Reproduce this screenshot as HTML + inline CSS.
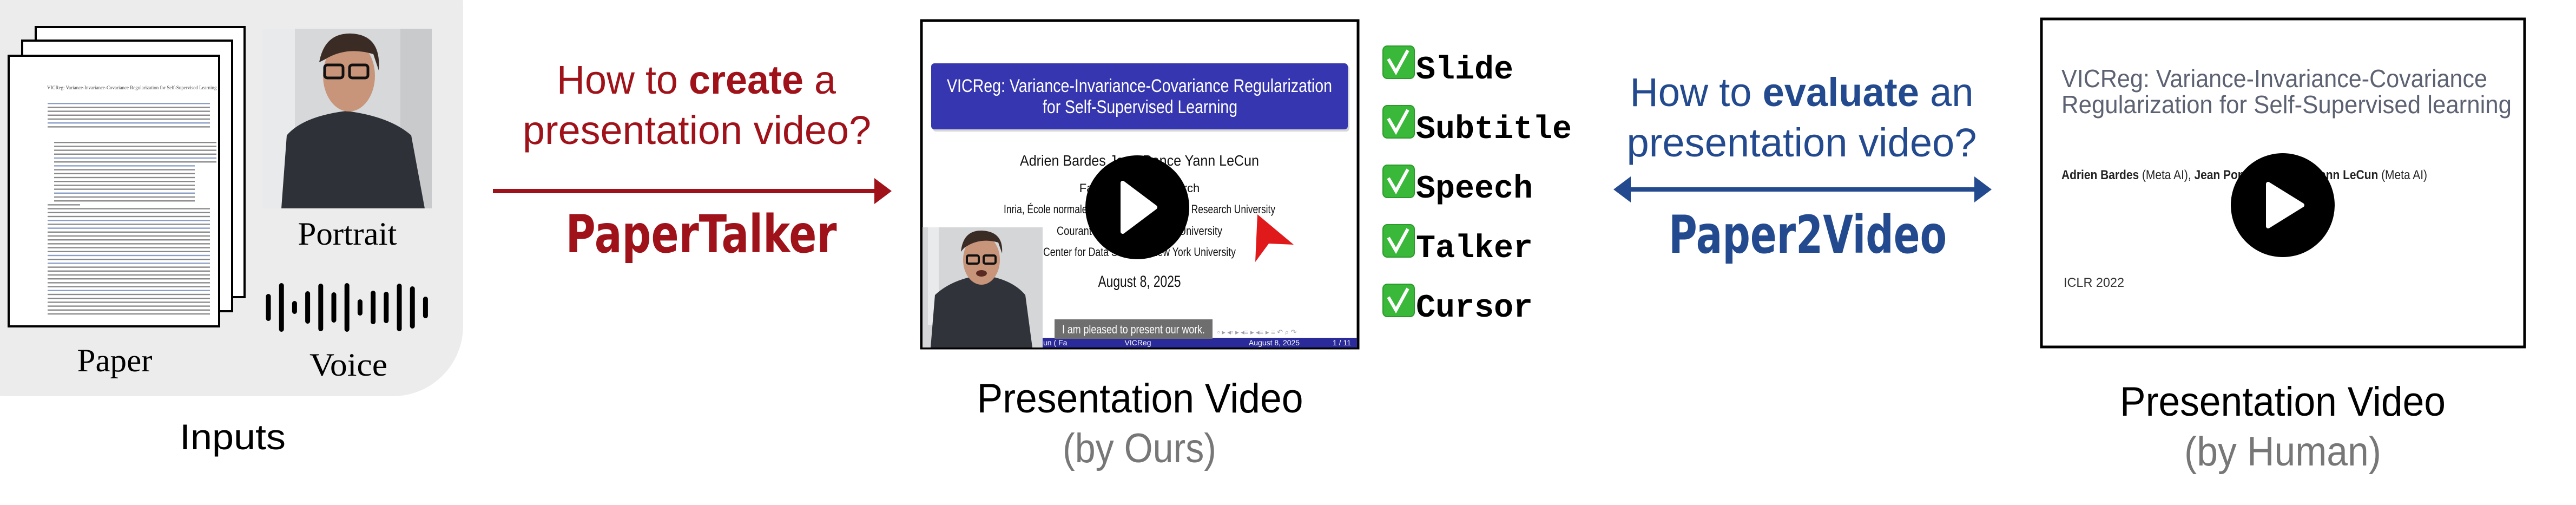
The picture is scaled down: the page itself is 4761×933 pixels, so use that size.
<!DOCTYPE html>
<html><head><meta charset="utf-8"><style>
html,body{margin:0;padding:0;background:#fff;width:4761px;height:933px;overflow:hidden}
svg{display:block}
.cal{font-family:"Liberation Sans Narrow","Liberation Sans",sans-serif}
.ser{font-family:"Liberation Serif",serif}
.mono{font-family:"Liberation Mono",monospace;font-weight:bold}
</style></head><body>
<svg id="fig" width="4761" height="933" viewBox="0 0 4761 933" xmlns="http://www.w3.org/2000/svg">
<defs>
<marker id="redHead" markerWidth="6" markerHeight="6" refX="3" refY="3" orient="auto" markerUnits="strokeWidth"><path d="M0,0 L4,3 L0,6 Z" fill="#a0121a"/></marker>
<marker id="blueHead" markerWidth="6" markerHeight="6" refX="3" refY="3" orient="auto-start-reverse" markerUnits="strokeWidth"><path d="M0,0 L4,3 L0,6 Z" fill="#234a8e"/></marker>
</defs>

<!-- Inputs panel -->
<g>
<rect x="-120" y="-120" width="976" height="852" rx="130" fill="#ececec"/>
<g>
<rect x="66" y="50" width="386" height="499" fill="#fff" stroke="#000" stroke-width="4"/>
<rect x="41" y="75" width="388" height="500" fill="#fff" stroke="#000" stroke-width="4"/>
<rect x="16" y="103" width="389" height="500" fill="#fff" stroke="#000" stroke-width="4"/>
<g id="paperLines" fill="#8a8a8a"></g>
<text x="87" y="165" font-size="9" class="ser" fill="#444">VICReg: Variance-Invariance-Covariance Regularization for Self-Supervised Learning</text>
</g>
<g>
<rect x="485" y="53" width="313" height="332" fill="#d6d8da"/>
<rect x="485" y="53" width="60" height="332" fill="#e8eaec"/>
<rect x="740" y="53" width="58" height="332" fill="#c8cacc"/>
<path d="M520,385 L530,250 Q560,215 640,205 Q720,215 760,250 L785,385 Z" fill="#2e3238"/>
<ellipse cx="645" cy="140" rx="48" ry="66" fill="#c9957a"/>
<path d="M590,115 Q600,60 650,62 Q705,65 700,130 L690,100 Q640,85 600,110 Z" fill="#3a2c25"/>
<rect x="600" y="120" width="34" height="24" rx="5" fill="none" stroke="#111" stroke-width="5"/>
<rect x="646" y="120" width="34" height="24" rx="5" fill="none" stroke="#111" stroke-width="5"/>
</g>
<text x="642" y="452" font-size="60" class="ser" text-anchor="middle" textLength="183" lengthAdjust="spacingAndGlyphs">Portrait</text>
<g id="wave"></g>
<text x="212" y="686" font-size="60" class="ser" text-anchor="middle" textLength="139" lengthAdjust="spacingAndGlyphs">Paper</text>
<text x="644" y="694" font-size="60" class="ser" text-anchor="middle" textLength="144" lengthAdjust="spacingAndGlyphs">Voice</text>
</g>
<text x="430" y="830" font-size="66" class="cal" text-anchor="middle" textLength="196" lengthAdjust="spacingAndGlyphs">Inputs</text>

<!-- Create question -->
<g fill="#a0121a">
<text x="1287" y="173" font-size="74" class="cal" text-anchor="middle" textLength="516" lengthAdjust="spacingAndGlyphs">How to <tspan font-weight="bold">create</tspan> a</text>
<text x="1288" y="266" font-size="74" class="cal" text-anchor="middle" textLength="644" lengthAdjust="spacingAndGlyphs">presentation video?</text>
</g>
<line x1="911" y1="353" x2="1640" y2="353" stroke="#a0121a" stroke-width="8" marker-end="url(#redHead)"/>
<text x="1296" y="466" font-size="96" font-weight="bold" fill="#a0121a" font-family="'DejaVu Sans',sans-serif" text-anchor="middle" textLength="501" lengthAdjust="spacingAndGlyphs">PaperTalker</text>

<!-- Our slide -->
<g>
<rect x="1703" y="38" width="807" height="605" fill="#fff" stroke="#000" stroke-width="5"/>
<rect x="1724" y="121" width="770" height="122" rx="6" fill="#999" opacity="0.4"/>
<rect x="1721" y="117" width="770" height="122" rx="6" fill="#3636b0"/>
<text x="2106" y="170" font-size="34" fill="#fff" class="cal" text-anchor="middle" textLength="712" lengthAdjust="spacingAndGlyphs">VICReg: Variance-Invariance-Covariance Regularization</text>
<text x="2107" y="209" font-size="34" fill="#fff" class="cal" text-anchor="middle" textLength="360" lengthAdjust="spacingAndGlyphs">for Self-Supervised Learning</text>
<g class="cal" fill="#111" text-anchor="middle">
<text x="2106" y="306" font-size="28" textLength="442" lengthAdjust="spacingAndGlyphs">Adrien Bardes      Jean Ponce      Yann LeCun</text>
<text x="2106" y="355" font-size="22">Facebook AI Research</text>
<text x="2106" y="394" font-size="22" textLength="502" lengthAdjust="spacingAndGlyphs">Inria, École normale supérieure, CNRS, PSL Research University</text>
<text x="2106" y="434" font-size="22" textLength="306" lengthAdjust="spacingAndGlyphs">Courant Institute, New York University</text>
<text x="2106" y="473" font-size="22" textLength="356" lengthAdjust="spacingAndGlyphs">Center for Data Science, New York University</text>
<text x="2106" y="530" font-size="30" textLength="153" lengthAdjust="spacingAndGlyphs">August 8, 2025</text>
</g>
<rect x="1705" y="624" width="803" height="18" fill="#2a2a9a"/>
<g class="cal" fill="#fff" font-size="14">
<text x="1928" y="638">un ( Fa</text><text x="2103" y="638" text-anchor="middle">VICReg</text><text x="2355" y="638" text-anchor="middle">August 8, 2025</text><text x="2480" y="638" text-anchor="middle">1 / 11</text>
</g>
<text x="2250" y="618" font-size="13" fill="#99a" class="cal">▫ ▸ ◂▫ ▸ ◂≡ ▸ ◂≡ ▸   ≡   ↶ ⌕ ↷</text>
<g>
<rect x="1705" y="420" width="222" height="222" fill="#d4d6d8"/>
<rect x="1715" y="420" width="20" height="180" fill="#e9eaec"/>
<path d="M1720,642 L1728,545 Q1760,515 1815,508 Q1870,515 1895,545 L1908,642 Z" fill="#30343a"/>
<ellipse cx="1814" cy="480" rx="34" ry="46" fill="#c9957a"/>
<path d="M1776,465 Q1780,425 1815,426 Q1855,428 1852,468 L1845,448 Q1810,438 1782,458 Z" fill="#3a2c25"/>
<rect x="1787" y="472" width="22" height="15" rx="3" fill="none" stroke="#111" stroke-width="4"/>
<rect x="1818" y="472" width="22" height="15" rx="3" fill="none" stroke="#111" stroke-width="4"/>
<ellipse cx="1814" cy="505" rx="10" ry="6" fill="#5a2a22"/>
</g>
<rect x="1949" y="590" width="292" height="36" fill="#6e6e6e"/>
<text x="2095" y="616" font-size="22" fill="#fff" class="cal" text-anchor="middle" textLength="264" lengthAdjust="spacingAndGlyphs">I am pleased to present our work.</text>
<path d="M2324,396 L2391,452 L2345,450 L2320,484 Z" fill="#e0191b"/>
<g>
<circle cx="2102" cy="383" r="96" fill="#000"/>
<path d="M2075,338 L2135,383 L2075,428 Z" fill="#fff" stroke="#fff" stroke-width="8" stroke-linejoin="round"/>
</g>
</g>

<!-- Checklist -->
<g id="checklist"></g>

<text x="2107" y="762" font-size="76" class="cal" text-anchor="middle" textLength="603" lengthAdjust="spacingAndGlyphs">Presentation Video</text>
<text x="2106" y="854" font-size="76" fill="#777" class="cal" text-anchor="middle" textLength="284" lengthAdjust="spacingAndGlyphs">(by Ours)</text>

<!-- Evaluate question -->
<g fill="#234a8e">
<text x="3330" y="196" font-size="74" class="cal" text-anchor="middle" textLength="635" lengthAdjust="spacingAndGlyphs">How to <tspan font-weight="bold">evaluate</tspan> an</text>
<text x="3330" y="289" font-size="74" class="cal" text-anchor="middle" textLength="647" lengthAdjust="spacingAndGlyphs">presentation video?</text>
</g>
<line x1="2990" y1="350" x2="3673" y2="350" stroke="#234a8e" stroke-width="8" marker-start="url(#blueHead)" marker-end="url(#blueHead)"/>
<text x="3341" y="467" font-size="96" font-weight="bold" fill="#234a8e" font-family="'DejaVu Sans',sans-serif" text-anchor="middle" textLength="514" lengthAdjust="spacingAndGlyphs">Paper2Video</text>

<!-- Human slide -->
<g>
<rect x="3773" y="35" width="893" height="606" fill="#fff" stroke="#000" stroke-width="5"/>
<g fill="#5c6272" class="cal">
<text x="3810" y="161" font-size="46" textLength="787" lengthAdjust="spacingAndGlyphs">VICReg: Variance-Invariance-Covariance</text>
<text x="3810" y="209" font-size="46" textLength="832" lengthAdjust="spacingAndGlyphs">Regularization for Self-Supervised learning</text>
</g>
<text x="3810" y="331" font-size="24" fill="#222" class="cal" textLength="676" lengthAdjust="spacingAndGlyphs"><tspan font-weight="bold">Adrien Bardes</tspan> (Meta AI), <tspan font-weight="bold">Jean Ponce</tspan> (Meta AI), <tspan font-weight="bold">Yann LeCun</tspan> (Meta AI)</text>
<text x="3814" y="530" font-size="24" fill="#333" class="cal" textLength="112" lengthAdjust="spacingAndGlyphs">ICLR 2022</text>
<g>
<circle cx="4219" cy="379" r="96" fill="#000"/>
<path d="M4192,340 L4255,379 L4192,418 Z" fill="#fff" stroke="#fff" stroke-width="8" stroke-linejoin="round"/>
</g>
</g>
<text x="4219" y="768" font-size="76" class="cal" text-anchor="middle" textLength="602" lengthAdjust="spacingAndGlyphs">Presentation Video</text>
<text x="4219" y="860" font-size="76" fill="#777" class="cal" text-anchor="middle" textLength="364" lengthAdjust="spacingAndGlyphs">(by Human)</text>
</svg>
<script>
const waveHeights = [50, 90, 24, 60, 88, 56, 90, 30, 62, 58, 88, 78, 40];
const checkItems = ['Slide', 'Subtitle', 'Speech', 'Talker', 'Cursor'];
const NS = 'http://www.w3.org/2000/svg';
function mk(tag, attrs, parent){const e=document.createElementNS(NS,tag);for(const k in attrs)e.setAttribute(k,attrs[k]);parent.appendChild(e);return e;}
// waveform
const wave=document.getElementById('wave');
const wx=(i)=>496+i*24.2, wcy=568;
waveHeights.forEach((h,i)=>{
  const r=mk('rect',{x:wx(i)-4.5,y:wcy-h/2,width:9,height:h,rx:4.5,fill:'#000'},wave);
  
  
});
// paper lines
const pl=document.getElementById('paperLines');
for(let y=190;y<580;y+=7.2){
  if(y>240&&y<255)continue;
  const w=(y>300&&y<370)?260:(y>360&&y<380?60:300);
  const x=(y>255&&y<370)?100:88;
  const r=mk('rect',{x:x,y:y,width:w,height:2.4,fill:(Math.floor(y)%5===0?'#8aa0c8':'#8a8a8a')},pl);
}
// checklist
const cl=document.getElementById('checklist');
const rowY=(i)=>85+i*110;
checkItems.forEach((t,i)=>{
  const g=mk('g',{},cl);
  
  
  mk('rect',{x:2556,y:rowY(i),width:58,height:60,rx:8,fill:'#3ab83a',stroke:'#2a9a2a','stroke-width':2},g);
  mk('path',{d:`M2566,${rowY(i)+24} L2580,${rowY(i)+48} L2602,${rowY(i)+8}`,fill:'none',stroke:'#fff','stroke-width':6},g);
  const tx=mk('text',{x:2617,y:rowY(i)+60,'font-size':60,class:'mono',fill:'#000',textLength:t.length*36,lengthAdjust:'spacingAndGlyphs'},g);
  tx.textContent=t;
});
</script>
</body></html>
